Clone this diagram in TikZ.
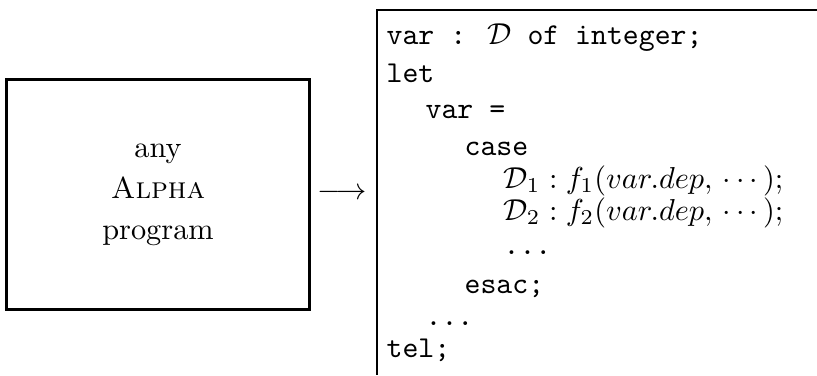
\documentclass[tikz,border=0pt]{standalone}
\usepackage{amssymb,amsfonts}
\usepackage{amsmath}
\usepackage{tikz}
\tikzset{code/.style={anchor=base west, inner sep=0pt, font=\ttfamily}}

\begin{document}
\begin{tikzpicture}[x=0.33pt, y=-0.33pt]
  \useasboundingbox (0,0) rectangle (817,375);
  \node[draw, line width=1pt, minimum width=99.7pt, minimum height=76.2pt, align=center](prog) at (158,194.5){any\\[1.5pt]\textsc{Alpha}\\[1.5pt]program};
  \node(arr) at (342,194){$\longrightarrow$};
  \coordinate(ctop) at (817,10);
  \coordinate(corner) at (377,10);
  \coordinate(cbot) at (377,375);
  \draw[line width=0.9pt](ctop)--(corner)--(cbot);
  \node[code](decl) at (386,44){var : $\mathcal{D}$ of integer;};
  \node[code](let) at (386,82){let};
  \node[code](eq) at (425,118){var =};
  \node[code](case) at (464,155){case};
  \node[code](br1) at (503,188){$\mathcal{D}_1 : f_1(var.dep,\,\cdots);$};
  \node[code](br2) at (503,220){$\mathcal{D}_2 : f_2(var.dep,\,\cdots);$};
  \node[code](more) at (503,254){...};
  \node[code](esac) at (464,293){esac;};
  \node[code](rest) at (425,325){...};
  \node[code](tel) at (386,357){tel;};
\end{tikzpicture}
\end{document}
